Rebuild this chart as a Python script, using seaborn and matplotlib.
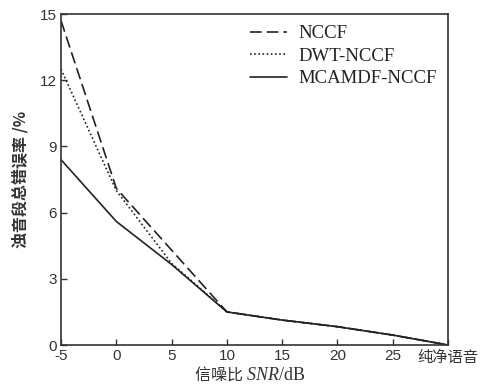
import matplotlib
matplotlib.use("Agg")
import matplotlib.pyplot as plt
import seaborn as sns
import pandas as pd

# Voiced-segment total error rate (%) versus SNR; x = 30 stands for clean speech
snr_nccf = [-5, 0, 10, 15, 20, 25, 30]
err_nccf = [14.7, 7.1, 1.5, 1.13, 0.83, 0.45, 0.0]

snr_dwt = [-5, 0, 5, 10, 15, 20, 25, 30]
err_dwt = [12.5, 7.0, 3.7, 1.5, 1.13, 0.83, 0.45, 0.0]

snr_mcamdf = [-5, 0, 5, 10, 15, 20, 25, 30]
err_mcamdf = [8.4, 5.6, 3.65, 1.5, 1.13, 0.83, 0.45, 0.0]

series_names = ["NCCF", "DWT-NCCF", "MCAMDF-NCCF"]
xtick_values = [-5, 0, 5, 10, 15, 20, 25, 30]
xtick_labels = ["-5", "0", "5", "10", "15", "20", "25", "纯净语音"]
ytick_values = [0, 3, 6, 9, 12, 15]

frames = []
for name, xs, ys in zip(series_names,
                        [snr_nccf, snr_dwt, snr_mcamdf],
                        [err_nccf, err_dwt, err_mcamdf]):
    frames.append(pd.DataFrame({"snr": xs, "err": ys, "method": name}))
df = pd.concat(frames, ignore_index=True)

sns.set_style("ticks")
plt.rcParams["font.family"] = ["Liberation Sans", "Noto Sans CJK SC", "DejaVu Sans"]
plt.rcParams["xtick.direction"] = "in"
plt.rcParams["ytick.direction"] = "in"
plt.rcParams["mathtext.fontset"] = "custom"
plt.rcParams["mathtext.it"] = "Liberation Serif:italic"
plt.rcParams["mathtext.rm"] = "Liberation Serif"

fig = plt.figure(figsize=(4.86, 3.87), dpi=100)
ax = fig.add_axes([0.1255, 0.1085, 0.7965, 0.8553])

sns.lineplot(data=df, x="snr", y="err", hue="method", style="method",
             hue_order=series_names, style_order=series_names,
             palette=["#222222", "#222222", "#222222"],
             dashes={"NCCF": (7, 3), "DWT-NCCF": (1, 1.5), "MCAMDF-NCCF": ""},
             linewidth=1.2, ax=ax, legend=True)

ax.set_xlim(-5, 30)
ax.set_ylim(0, 15)
ax.set_xticks(xtick_values)
ax.set_xticklabels(xtick_labels)
for lbl in ax.get_xticklabels():
    if lbl.get_text() == "纯净语音":
        lbl.set_fontfamily(["Noto Sans CJK SC"])
        lbl.set_fontsize(11.5)
ax.set_yticks(ytick_values)
ax.tick_params(axis="both", labelsize=11, length=4, width=1, color="#333333",
               labelcolor="#333333", pad=3)
for sp in ax.spines.values():
    sp.set_linewidth(1.2)
    sp.set_color("#333333")

ax.set_xlabel("")
ax.set_ylabel("浊音段总错误率 /%", fontsize=11.5, fontfamily=["Noto Sans CJK SC"],
              fontweight="bold", color="#333333", labelpad=8)
fig.text(0.507, 0.008, "信噪比 ", ha="right", va="bottom", fontsize=11.5,
         fontfamily=["Noto Sans CJK SC"], color="#333333")
fig.text(0.507, 0.008, "$SNR$/dB", ha="left", va="bottom", fontsize=13,
         fontfamily=["Liberation Serif"], color="#333333")

leg = ax.legend(loc="upper right", frameon=False, handlelength=2.0,
                prop={"family": "Liberation Serif", "size": 13.5},
                labelspacing=0.28, borderaxespad=0.2, handletextpad=0.6)
for t in leg.get_texts():
    t.set_color("#222222")

fig.savefig("out.png", dpi=100)
